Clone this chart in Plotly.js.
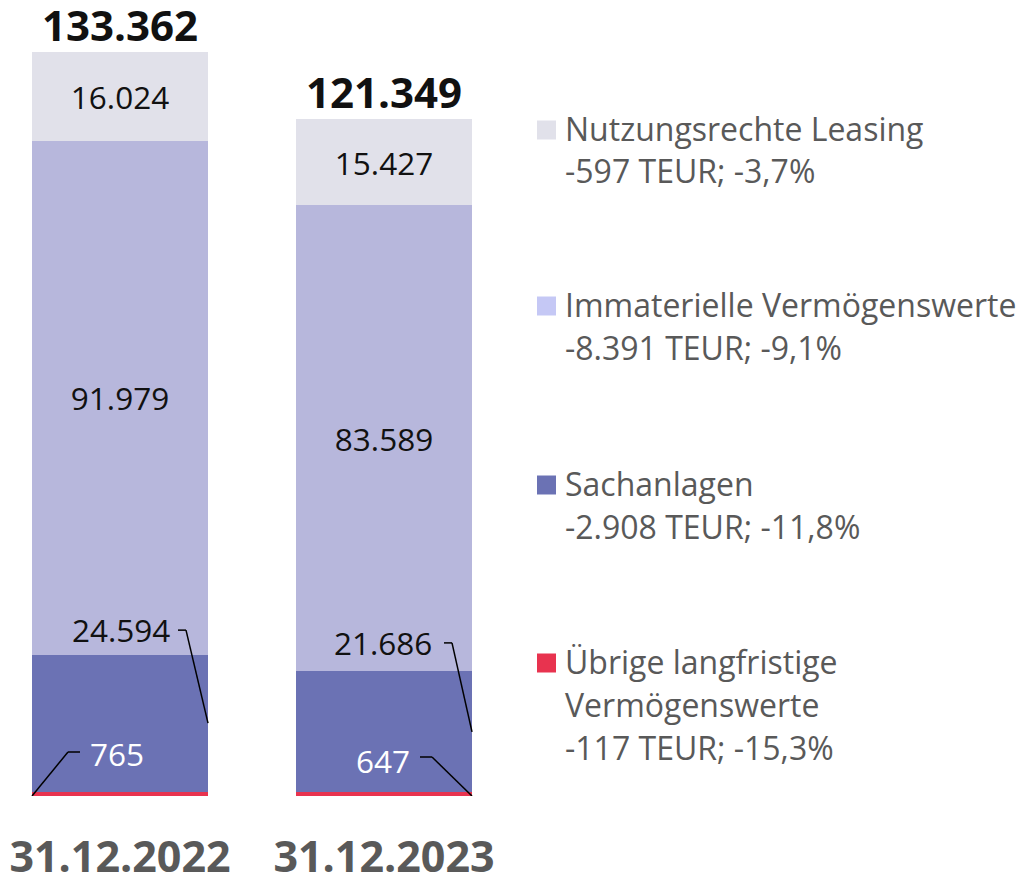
<!DOCTYPE html>
<html>
<head>
<meta charset="utf-8">
<script src="https://cdn.plot.ly/plotly-3.0.1.min.js"></script>
<style>html,body{margin:0;padding:0;background:#fff}#chart{width:1023px;height:875px}</style>
</head>
<body>
<div id="chart"></div>
<script>
// ---- data ----
var categories = ['31.12.2022', '31.12.2023'];
var uebrige = [765, 647];
var sachanlagen = [24594, 21686];
var immaterielle = [91979, 83589];
var nutzungsrechte = [16024, 15427];
var totals = [133362, 121349];
var legendNames = ['Nutzungsrechte Leasing', 'Immaterielle Vermögenswerte', 'Sachanlagen', 'Übrige langfristige<br>Vermögenswerte'];
var legendChanges = ['-597 TEUR; -3,7%', '-8.391 TEUR; -9,1%', '-2.908 TEUR; -11,8%', '-117 TEUR; -15,3%'];

// ---- style ----
var FONT = 'Open Sans, sans-serif';
var VSIZE = 31.5;
var LSIZE = 32;
var colors = {
  uebrige: '#e8334f',
  sach: '#6b72b4',
  immat: '#b7b7dc',
  nutz: '#e1e1ea'
};
var legendColors = ['#e1e1ea', '#c5c8f5', '#6b72b4', '#e8334f'];
var BARGAP = 1/3;
var half = (1 - BARGAP) / 2;

function fmt(v) {
  return String(v).replace(/\B(?=(\d{3})+(?!\d))/g, '.');
}

function barTrace(name, vals, color, textColor, showText) {
  return {
    type: 'bar', name: name, x: categories, y: vals,
    marker: {color: color, line: {width: 0}},
    text: showText ? vals.map(fmt) : null,
    textposition: showText ? 'inside' : 'none',
    insidetextanchor: 'middle',
    textfont: {family: FONT, size: VSIZE, color: textColor},
    hoverinfo: 'skip', showlegend: false
  };
}

var data = [
  barTrace('Übrige langfristige Vermögenswerte', uebrige, colors.uebrige, '#fff', false),
  barTrace('Sachanlagen', sachanlagen, colors.sach, '#000', false),
  barTrace('Immaterielle Vermögenswerte', immaterielle, colors.immat, '#111', true),
  barTrace('Nutzungsrechte Leasing', nutzungsrechte, colors.nutz, '#111', true)
];

var annotations = [];
var shapes = [];

// totals
totals.forEach(function (t, i) {
  annotations.push({x: i, y: t, xref: 'x', yref: 'y', text: fmt(t), showarrow: false,
    yanchor: 'middle', yshift: 28,
    font: {family: FONT, size: 42, color: '#111', weight: 700}});
});

function leader(xa, ya, pts) {
  for (var k = 0; k < pts.length - 1; k++) {
    shapes.push({type: 'line', xref: 'x', yref: 'y', xsizemode: 'pixel', ysizemode: 'pixel',
      xanchor: xa, yanchor: ya,
      x0: pts[k][0], y0: pts[k][1], x1: pts[k + 1][0], y1: pts[k + 1][1],
      line: {color: '#000', width: 1.5}});
  }
}

// Sachanlagen labels (outside, above segment, with leader)
var sachCfg = [
  {dx: -22, dy: 93, hx: -30, tx: -36, ty: 94},
  {dx: -20, dy: 89, hx: -28, tx: -38, ty: 89}
];
sachanlagen.forEach(function (v, i) {
  var mid = uebrige[i] + v / 2;
  var edge = i + half;
  var c = sachCfg[i];
  leader(edge, mid, [[0, 0], [c.dx, c.dy], [c.hx, c.dy]]);
  annotations.push({x: edge, y: mid, xref: 'x', yref: 'y', text: fmt(v), showarrow: false,
    xanchor: 'right', yanchor: 'middle', xshift: c.tx, yshift: c.ty,
    font: {family: FONT, size: VSIZE, color: '#111'}});
});

// Übrige labels (white, inside Sachanlagen, leader to bottom corner)
var uebCfg = [
  {side: -1, dx: 36, dy: 44, hx: 48, tx: 56, ty: 43, anchor: 'left'},
  {side: 1, dx: -40, dy: 39, hx: -52, tx: -60, ty: 36, anchor: 'right'}
];
uebrige.forEach(function (v, i) {
  var c = uebCfg[i];
  var edge = i + c.side * half;
  leader(edge, 0, [[0, 0], [c.dx, c.dy], [c.hx, c.dy]]);
  annotations.push({x: edge, y: 0, xref: 'x', yref: 'y', text: fmt(v), showarrow: false,
    xanchor: c.anchor, yanchor: 'middle', xshift: c.tx, yshift: c.ty,
    font: {family: FONT, size: VSIZE, color: '#fff'}});
});

// custom legend
var PW = 516, BASE = 796, PH = 744;
function px(x) { return x / PW; }
function py(y) { return (BASE - y) / PH; }
var legendY = [130, 306, 485, 663];
var LINE = 43;
legendNames.forEach(function (name, i) {
  var y0 = legendY[i];
  shapes.push({type: 'rect', xref: 'paper', yref: 'paper',
    x0: px(537), x1: px(556), y0: py(y0 + 9.5), y1: py(y0 - 9.5),
    fillcolor: legendColors[i], line: {width: 0}});
  var lines = name.split('<br>').concat([legendChanges[i]]);
  lines.forEach(function (ln, k) {
    annotations.push({xref: 'paper', yref: 'paper', x: px(563), y: py(y0 - 2 + k * LINE),
      text: ln, showarrow: false, xanchor: 'left', yanchor: 'middle',
      font: {family: FONT, size: LSIZE, color: '#595959'}});
  });
});

var layout = {
  width: 1023, height: 875,
  margin: {l: 0, r: 1023 - PW, t: 52, b: 875 - BASE, pad: 0},
  paper_bgcolor: '#fff', plot_bgcolor: '#fff',
  barmode: 'stack', bargap: BARGAP,
  separators: ',.',
  showlegend: false,
  xaxis: {type: 'category', range: [-120 / 264, 1.5], showgrid: false, zeroline: false,
    showline: false, ticks: '', ticklabelstandoff: 32,
    tickfont: {family: FONT, size: 43, color: '#595959', weight: 700}, fixedrange: true},
  yaxis: {range: [0, totals[0]], visible: false, showgrid: false, zeroline: false, fixedrange: true},
  annotations: annotations,
  shapes: shapes
};

Plotly.newPlot('chart', data, layout, {displayModeBar: false, staticPlot: true});
</script>
</body>
</html>
